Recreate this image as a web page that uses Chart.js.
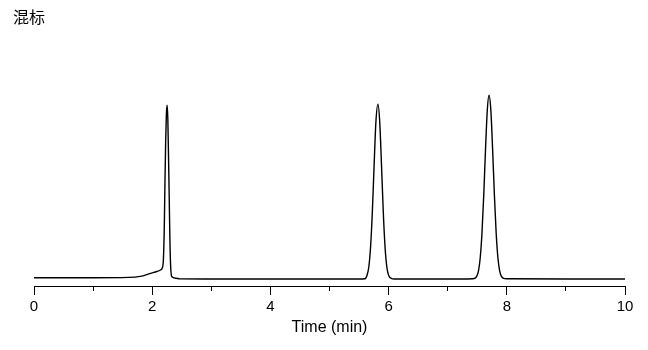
<!DOCTYPE html>
<html>
<head>
<meta charset="utf-8">
<script src="https://cdn.jsdelivr.net/npm/chart.js@4/dist/chart.umd.min.js"></script>
<style>
  html, body { margin: 0; padding: 0; background: #fff; }
  #wrap { width: 648px; height: 350px; }
</style>
</head>
<body>
<div id="wrap"><canvas id="chrom"></canvas></div>
<script>
// chromatogram: time (min) and detector signal (arbitrary units)
const chartTitle = "混标";
const xTitle = "Time (min)";

const timeMin = [
  0, 1.0, 1.6, 1.8, 1.97, 2.08, 2.14, 2.17, 2.19, 2.205, 2.215, 2.228, 2.24, 2.252,
  2.264, 2.276, 2.288, 2.3, 2.312, 2.33, 2.4, 2.47,
  3.0, 4.0, 5.0, 5.5, 5.6, 5.635, 5.665, 5.695, 5.725, 5.755, 5.785, 5.82, 5.85,
  5.88, 5.91, 5.94, 5.97, 6.0, 6.045, 6.1,
  7.0, 7.42, 7.465, 7.49, 7.52, 7.55, 7.58, 7.61, 7.64, 7.67, 7.70, 7.73, 7.76,
  7.79, 7.82, 7.85, 7.88, 7.91, 7.945, 8.0, 9.0, 10.0
];

const signal = [
  8.3, 8.3, 8.6, 9.6, 12.7, 14.5, 16, 18, 27, 60, 100, 145, 172, 181,
  168, 130, 88, 45, 20, 9.5, 7.8, 7.1,
  7, 7, 7, 7, 7.2, 10.8, 19, 39, 74, 121, 164, 182, 164,
  121, 74, 39, 19, 10.8, 7.6, 7,
  7, 7.3, 7.9, 9.6, 15, 28, 53, 91, 137, 176, 191, 176, 137,
  91, 53, 28, 15, 9.6, 7.6, 7.2, 7, 7
];

const majorStep = 2;
const minorStep = 1;

const points = timeMin.map((t, i) => ({ x: t, y: signal[i] }));

const fontLatin = "'Liberation Sans', Arial, sans-serif";

new Chart(document.getElementById("chrom").getContext("2d"), {
  type: "line",
  data: {
    datasets: [{
      label: chartTitle,
      data: points,
      borderColor: "#000",
      borderWidth: 1.4,
      borderJoinStyle: "round",
      borderCapStyle: "round",
      cubicInterpolationMode: "monotone",
      pointRadius: 0,
      fill: false,
    }],
  },
  options: {
    responsive: true,
    maintainAspectRatio: false,
    animation: false,
    devicePixelRatio: 1,
    layout: { padding: { left: 13, right: 23, top: 0, bottom: 0 } },
    plugins: {
      legend: { display: false },
      tooltip: { enabled: false },
      title: {
        display: true,
        text: chartTitle,
        align: "start",
        color: "#000",
        font: { family: "'Noto Sans CJK SC', sans-serif", size: 16, weight: "normal" },
        padding: { top: 7, bottom: 24 },
      },
    },
    scales: {
      x: {
        type: "linear",
        position: "bottom",
        weight: 1,
        min: 0,
        max: 10,
        afterFit: (s) => { s.height = 64; },
        border: { display: true, color: "#000", width: 1 },
        grid: { drawOnChartArea: false, drawTicks: true, tickLength: 9, tickColor: "#000", tickWidth: 1 },
        ticks: {
          stepSize: majorStep,
          autoSkip: false,
          maxRotation: 0,
          color: "#000",
          padding: 3,
          font: { family: fontLatin, size: 15 },
        },
        title: {
          display: true,
          text: xTitle,
          color: "#000",
          font: { family: fontLatin, size: 16 },
          padding: { top: 0, bottom: 13 },
        },
      },
      xMinor: {
        type: "linear",
        position: "bottom",
        weight: 0,
        min: 0,
        max: 10,
        afterFit: (s) => { s.height = 0; },
        border: { display: false },
        grid: { drawOnChartArea: false, drawTicks: true, tickLength: 5, tickColor: "#000", tickWidth: 1 },
        ticks: { stepSize: minorStep, autoSkip: false, display: false },
      },
      y: {
        min: 0,
        max: 236,
        display: true,
        afterFit: (s) => { s.width = 21; },
        border: { display: false },
        grid: { display: false },
        ticks: { display: false },
      },
    },
  },
});
</script>
</body>
</html>
